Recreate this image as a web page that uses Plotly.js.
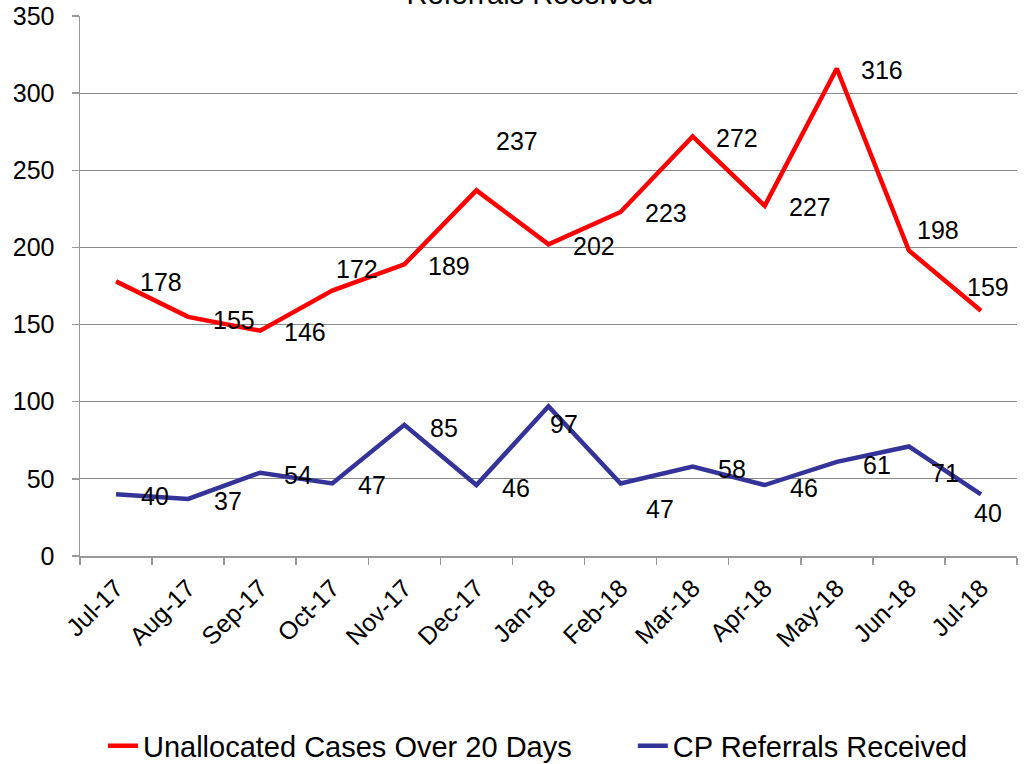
<!DOCTYPE html>
<html>
<head>
<meta charset="utf-8">
<script src="https://cdn.plot.ly/plotly-3.0.1.min.js"></script>
<style>html,body{margin:0;padding:0;background:#fff;}#chart{width:1030px;height:764px;}</style>
</head>
<body>
<div id="chart"></div>
<script>
var months = ["Jul-17","Aug-17","Sep-17","Oct-17","Nov-17","Dec-17","Jan-18","Feb-18","Mar-18","Apr-18","May-18","Jun-18","Jul-18"];
var unallocated = [178,155,146,172,189,237,202,223,272,227,316,198,159];
var cpReferrals = [40,37,54,47,85,46,97,47,58,46,61,71,40];
var yTicks = [0,50,100,150,200,250,300,350];

// label nudges (pixels, label centre relative to point; dy positive = down)
var redDx = [45,46,45,25,45,41,45,45,44,45,45,29,7];
var redDy = [1,3,1,-22,2,-49,2,1,2,1,2,-21,-24];
var blueDx = [39,40,38,40,40,40,15,39,39,39,40,36,7];
var blueDy = [2,2,2,2,3,3,18,26,2,3,3,27,19];

var FONT = "Liberation Sans, Arial, sans-serif";
var RED = "#FF0000", BLUE = "#333399";

var traces = [
  {x: months, y: unallocated, type: "scatter", mode: "lines", name: "Unallocated Cases Over 20 Days",
   line: {color: RED, width: 4.5}, legend: "legend"},
  {x: months, y: cpReferrals, type: "scatter", mode: "lines", name: "CP Referrals Received",
   line: {color: BLUE, width: 4.5}, legend: "legend2"}
];

var annotations = [];
function addLabels(vals, dx, dy) {
  for (var i = 0; i < vals.length; i++) {
    annotations.push({x: months[i], y: vals[i], xref: "x", yref: "y", text: String(vals[i]),
      showarrow: false, xanchor: "center", yanchor: "middle", xshift: dx[i], yshift: -dy[i],
      font: {family: FONT, size: 25, color: "#000"}});
  }
}
addLabels(unallocated, redDx, redDy);
addLabels(cpReferrals, blueDx, blueDy);

// chart title (only its last line falls inside the picture, as in the original)
annotations.push({text: "Unallocated Cases Over 20 Days and CP<br>Referrals Received",
  xref: "paper", yref: "paper", x: 0.48, y: 1, xanchor: "center", yanchor: "bottom",
  yshift: 5, borderpad: 0, showarrow: false, font: {family: FONT, size: 29, color: "#000"}});

var legendBase = {orientation: "h", xanchor: "left", yref: "container", y: 0.0236, yanchor: "middle",
  font: {family: FONT, size: 29, color: "#000"}, bgcolor: "rgba(0,0,0,0)"};

var layout = {
  width: 1030, height: 764,
  margin: {l: 80, r: 13, t: 16, b: 208, pad: 0, autoexpand: false},
  paper_bgcolor: "#fff", plot_bgcolor: "#fff",
  font: {family: FONT, size: 25, color: "#000"},
  xaxis: {type: "category", range: [-0.5, 12.5], tickangle: -45, ticks: "outside", tickson: "boundaries",
    ticklen: 7, tickcolor: "#999", tickwidth: 1.5, showline: true, linecolor: "#999", linewidth: 1.5,
    showgrid: false, automargin: false, ticklabelstandoff: 6, tickfont: {family: FONT, size: 25, color: "#000"}, fixedrange: true},
  yaxis: {range: [0, 350], tickvals: yTicks, ticks: "outside", ticklen: 7, tickcolor: "#999", tickwidth: 1.5,
    showline: true, linecolor: "#999", linewidth: 1.5, showgrid: true, gridcolor: "#8a8a8a", gridwidth: 1,
    zeroline: false, automargin: false, ticklabelstandoff: 12, tickfont: {family: FONT, size: 25, color: "#000"}, fixedrange: true},
  showlegend: true,
  legend: Object.assign({}, legendBase, {xref: "paper", x: 0.0245}),
  legend2: Object.assign({}, legendBase, {xref: "paper", x: 0.590}),
  annotations: annotations,
  hovermode: false
};

Plotly.newPlot("chart", traces, layout, {staticPlot: true, displayModeBar: false});
</script>
</body>
</html>
